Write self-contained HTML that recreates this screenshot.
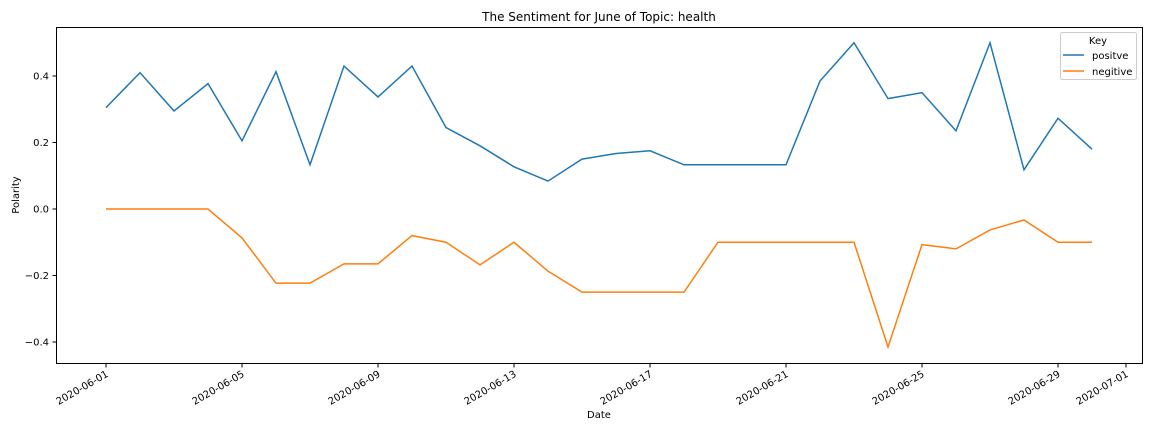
<!DOCTYPE html>
<html><head><meta charset="utf-8"><style>
body{margin:0;background:#fff;font-family:"DejaVu Sans","Liberation Sans",sans-serif}
svg text{font-family:"DejaVu Sans","Liberation Sans",sans-serif;fill:#000}
</style></head><body>
<svg id="chart" width="1152" height="432" xmlns="http://www.w3.org/2000/svg">
<rect width="1152" height="432" fill="#fff"/>
<text x="599" y="21" font-size="12" text-anchor="middle">The Sentiment for June of Topic: health</text>
<g id="grid"></g>
<g id="series"></g>
<rect x="56.5" y="27.5" width="1086" height="336" fill="none" stroke="#000" stroke-width="1"/>
<text transform="translate(19,195) rotate(-90)" font-size="10" text-anchor="middle">Polarity</text>
<text x="599" y="418" font-size="10" text-anchor="middle">Date</text>
<g>
<rect x="1060.5" y="32.5" width="76" height="47" rx="2" fill="#fff" stroke="#ccc"/>
<text x="1098" y="44" font-size="10" text-anchor="middle">Key</text>
<line x1="1063" y1="55" x2="1084" y2="55" stroke="#1f77b4" stroke-width="1.5"/>
<text x="1092" y="59" font-size="10">positve</text>
<line x1="1063" y1="71" x2="1084" y2="71" stroke="#ff7f0e" stroke-width="1.5"/>
<text x="1092" y="75" font-size="10">negitive</text>
</g>
</svg>
<script>
const days=[1,2,3,4,5,6,7,8,9,10,11,12,13,14,15,16,17,18,19,20,21,22,23,24,25,26,27,28,29,30];
const positive=[0.305,0.41,0.295,0.377,0.205,0.413,0.133,0.43,0.337,0.43,0.245,0.19,0.127,0.084,0.15,0.167,0.175,0.133,0.133,0.133,0.133,0.385,0.5,0.332,0.35,0.235,0.5,0.118,0.273,0.18];
const negative=[0,0,0,0,-0.087,-0.223,-0.223,-0.165,-0.165,-0.08,-0.1,-0.168,-0.1,-0.187,-0.25,-0.25,-0.25,-0.25,-0.1,-0.1,-0.1,-0.1,-0.1,-0.415,-0.107,-0.12,-0.063,-0.033,-0.1,-0.1];
const yTicks=[-0.4,-0.2,0.0,0.2,0.4];
const xTickDays=[1,5,9,13,17,21,25,29,31];
const xTickLabels=["2020-06-01","2020-06-05","2020-06-09","2020-06-13","2020-06-17","2020-06-21","2020-06-25","2020-06-29","2020-07-01"];
const NS="http://www.w3.org/2000/svg";
const xs=d=>106+(d-1)*34;
const ys=v=>209-v*332.5;
const g=document.getElementById('grid'),s=document.getElementById('series');
function mk(tag,attrs,parent){const e=document.createElementNS(NS,tag);for(const k in attrs)e.setAttribute(k,attrs[k]);parent.appendChild(e);return e;}
yTicks.forEach(v=>{
  const y=ys(v);
  const t=mk('line',{x1:52.5,x2:56.5,y1:y,y2:y,stroke:'#000'},g);
  
  
  const l=mk('text',{x:49,y:y+3.5,'font-size':10,'text-anchor':'end'},g);
  
  
  l.textContent=(v<0?'\u2212':'')+Math.abs(v).toFixed(1);
});
xTickDays.forEach((d,i)=>{
  const x=xs(d);
  const t=mk('line',{x1:x,x2:x,y1:363.5,y2:367.5,stroke:'#000'},g);
  
  
  const l=mk('text',{transform:`translate(${x+3},${376}) rotate(-30)`,'font-size':10,'text-anchor':'end'},g);
  
  
  l.textContent=xTickLabels[i];
});
function line(vals,color,name){
  const p=mk('polyline',{points:vals.map((v,i)=>xs(days[i])+','+ys(v)).join(' '),fill:'none',stroke:color,'stroke-width':1.5},s);
  
  
}
line(positive,'#1f77b4','positive-line');
line(negative,'#ff7f0e','negative-line');
</script>
</body></html>
